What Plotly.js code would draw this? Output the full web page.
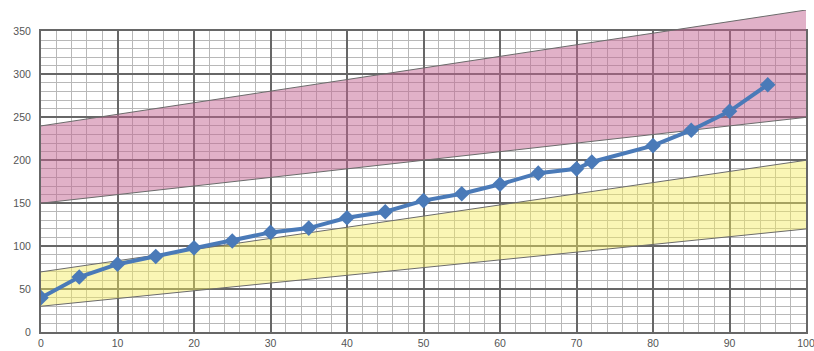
<!DOCTYPE html>
<html>
<head>
<meta charset="utf-8">
<script src="https://cdn.plot.ly/plotly-3.0.1.min.js"></script>
<style>html,body{margin:0;padding:0;background:#fff;}#chart{width:814px;height:351px;}</style>
</head>
<body>
<div id="chart"></div>
<script>
// Band boundary values (at x = 0 and x = 100)
const bandX = [0, 100];
const yellowLower = [30, 120];
const yellowUpper = [70, 200];
const pinkLower = [150, 250];
const pinkUpper = [240, 375];

// Measured series
const seriesX = [0, 5, 10, 15, 20, 25, 30, 35, 40, 45, 50, 55, 60, 65, 70, 72, 80, 85, 90, 95];
const seriesY = [40, 64, 79, 88, 98, 106, 116, 121, 133, 140, 153, 161, 172, 185, 190, 198, 217, 235, 257, 288];

// Axis ticks
const xTicks = [0, 10, 20, 30, 40, 50, 60, 70, 80, 90, 100];
const yTicks = [0, 50, 100, 150, 200, 250, 300, 350];
const xMinor = [];
for (let v = 0; v <= 100; v += 2) xMinor.push(v);
const yMinor = [];
for (let v = 0; v <= 350; v += 10) yMinor.push(v);

const gridTop = 350;   // grid stops here
const fullTop = 375;   // bands continue up to here

const edge = {color: '#6b6b6b', width: 1};

const traces = [
  {x: bandX, y: yellowLower, xaxis: 'x2', yaxis: 'y2', mode: 'lines', line: edge, fill: 'none', hoverinfo: 'skip', showlegend: false},
  {x: bandX, y: yellowUpper, xaxis: 'x2', yaxis: 'y2', mode: 'lines', line: edge, fill: 'tonexty', fillcolor: 'rgba(245,235,90,0.45)', hoverinfo: 'skip', showlegend: false},
  {x: bandX, y: pinkLower, xaxis: 'x2', yaxis: 'y2', mode: 'lines', line: edge, fill: 'none', hoverinfo: 'skip', showlegend: false},
  {x: bandX, y: pinkUpper, xaxis: 'x2', yaxis: 'y2', mode: 'lines', line: edge, fill: 'tonexty', fillcolor: 'rgba(195,100,145,0.5)', hoverinfo: 'skip', showlegend: false},
  {x: seriesX, y: seriesY, xaxis: 'x2', yaxis: 'y2', mode: 'lines+markers', line: {color: '#4a7ab8', width: 4},
   marker: {symbol: 'diamond', size: 12, color: '#4a7ab8'}, showlegend: false},
  // invisible trace to create the grid subplot
  {x: [0], y: [0], xaxis: 'x', yaxis: 'y', mode: 'markers', marker: {opacity: 0}, hoverinfo: 'skip', showlegend: false}
];

const layout = {
  width: 814, height: 351,
  margin: {l: 41, r: 8, t: 10, b: 19},
  paper_bgcolor: '#ffffff', plot_bgcolor: 'rgba(0,0,0,0)',
  font: {family: 'Liberation Sans, Arial, sans-serif', size: 10.5, color: '#555'},
  showlegend: false,
  xaxis: {
    domain: [0, 1], anchor: 'y',
    range: [0, 100], tickmode: 'array', tickvals: xTicks, ticks: '',
    showgrid: true, gridcolor: '#676767', gridwidth: 2, zeroline: false,
    showline: true, mirror: true, linecolor: '#676767', linewidth: 2,
    ticklabelstandoff: 0, ticklabeloverflow: 'allow',
    minor: {tickmode: 'array', tickvals: xMinor, showgrid: true, gridcolor: '#b8b8b8', gridwidth: 1},
    tickfont: {size: 10.5, color: '#555'}
  },
  yaxis: {
    domain: [0, gridTop / fullTop], anchor: 'x',
    range: [0, gridTop], tickmode: 'array', tickvals: yTicks, ticks: '',
    showgrid: true, gridcolor: '#676767', gridwidth: 2, zeroline: false,
    showline: true, mirror: true, linecolor: '#676767', linewidth: 2,
    ticklabelstandoff: 6,
    minor: {tickmode: 'array', tickvals: yMinor, showgrid: true, gridcolor: '#b8b8b8', gridwidth: 1},
    tickfont: {size: 10.5, color: '#555'}
  },
  xaxis2: {
    domain: [0, 1], anchor: 'y2', range: [0, 100],
    showgrid: false, zeroline: false, showticklabels: false, showline: false, ticks: ''
  },
  yaxis2: {
    domain: [0, 1], anchor: 'x2', range: [0, fullTop],
    showgrid: false, zeroline: false, showticklabels: false, showline: false, ticks: ''
  }
};

Plotly.newPlot('chart', traces, layout, {displayModeBar: false, staticPlot: true});
</script>
</body>
</html>
